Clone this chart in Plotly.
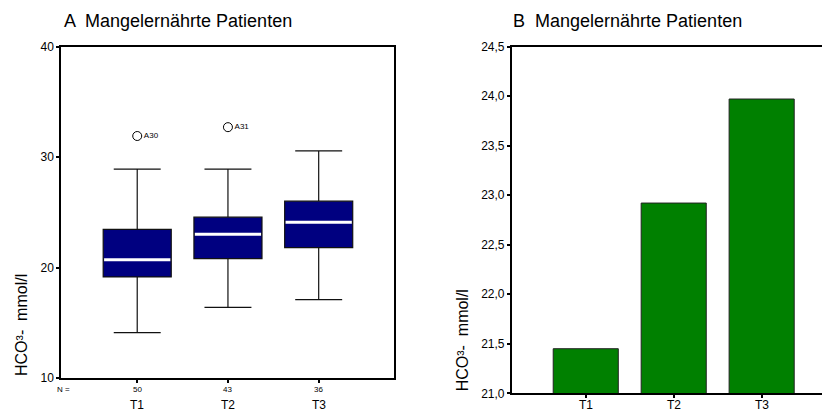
import plotly.graph_objects as go

# HCO3- values (mmol/l) for malnourished patients at three time points
times = ["T1", "T2", "T3"]
n_counts = [50, 43, 36]

# box plot statistics per time point
lower_whisker = [14.1, 16.4, 17.1]
q1_vals = [19.15, 20.8, 21.8]
median_vals = [20.7, 23.0, 24.1]
q3_vals = [23.45, 24.55, 26.0]
upper_whisker = [28.9, 28.9, 30.55]

# labelled outliers
outlier_pos = [0, 1]
outlier_vals = [31.9, 32.7]
outlier_ids = ["A30", "A31"]

# mean values per time point
mean_vals = [21.45, 22.92, 23.97]

W, H = 822, 413
FONT = "Liberation Sans, Arial, sans-serif"
xs = list(range(len(times)))

fig = go.Figure()

box_w = 0.75
for i in xs:
    fig.add_trace(go.Box(
        x=[i], q1=[q1_vals[i]], median=[median_vals[i]], q3=[q3_vals[i]],
        lowerfence=[lower_whisker[i]], upperfence=[upper_whisker[i]],
        width=box_w, whiskerwidth=0.69,
        fillcolor="#000080", line=dict(color="#111111", width=1.2),
        boxpoints=False, xaxis="x", yaxis="y", hoverinfo="skip",
    ))
    # white median bar
    fig.add_trace(go.Scatter(
        x=[i - box_w / 2 + 0.01, i + box_w / 2 - 0.01],
        y=[median_vals[i], median_vals[i]],
        mode="lines", line=dict(color="white", width=3),
        xaxis="x", yaxis="y", hoverinfo="skip",
    ))

fig.add_trace(go.Scatter(
    x=outlier_pos, y=outlier_vals, mode="markers+text",
    text=outlier_ids, textposition="middle right",
    textfont=dict(family=FONT, size=8, color="black"),
    marker=dict(symbol="circle-open", size=9, color="black",
                line=dict(width=1, color="black")),
    xaxis="x", yaxis="y", hoverinfo="skip",
))

fig.add_trace(go.Bar(
    x=xs, y=mean_vals, base=0, width=0.74,
    marker=dict(color="#008000", line=dict(color="#222222", width=1)),
    xaxis="x2", yaxis="y2", hoverinfo="skip",
))

top_px, bot1_px, bot2_px = 46.5, 378, 393.3
ydom1 = [1 - bot1_px / H, 1 - top_px / H]
ydom2 = [1 - bot2_px / H, 1 - top_px / H]

axis_common = dict(showgrid=False, zeroline=False, showline=True,
                   linecolor="black", linewidth=1.5, automargin=False,
                   ticks="outside", ticklen=3, tickwidth=2, tickcolor="black",
                   tickfont=dict(family=FONT, size=12, color="black"))

fig.update_layout(
    width=W, height=H, margin=dict(l=0, r=0, t=0, b=0, pad=0, autoexpand=False),
    paper_bgcolor="white", plot_bgcolor="white",
    showlegend=False, separators=",.",
    font=dict(family=FONT, color="black"),
    xaxis=dict(domain=[61 / W, 394 / W], range=[-0.84, 2.83],
               tickvals=xs, showticklabels=False, mirror=True,
               anchor="y", **axis_common),
    yaxis=dict(domain=ydom1, range=[10, 40], tickvals=[10, 20, 30, 40],
               mirror=True, anchor="x", **axis_common),
    xaxis2=dict(domain=[511.7 / W, 1.0], range=[-0.842, 2.686],
                tickvals=xs, showticklabels=False, mirror=True, anchor="y2",
                **axis_common),
    yaxis2=dict(domain=ydom2, range=[21, 24.5],
                tickvals=[21, 21.5, 22, 22.5, 23, 23.5, 24, 24.5],
                tickformat=".1f", anchor="x2", **axis_common),
)

ann = []
ann.append(dict(text="A  Mangelernährte Patienten", x=62 / W, y=1 - 21 / H,
                xref="paper", yref="paper", xanchor="left", yanchor="middle",
                showarrow=False, font=dict(family=FONT, size=18)))
ann.append(dict(text="B  Mangelernährte Patienten", x=511 / W, y=1 - 21 / H,
                xref="paper", yref="paper", xanchor="left", yanchor="middle",
                showarrow=False, font=dict(family=FONT, size=18)))
for xp, yb in [(21 / W, bot1_px), (462 / W, bot2_px)]:
    ann.append(dict(text="HCO³-  mmol/l", x=xp, y=1 - yb / H, textangle=-90,
                    xref="paper", yref="paper", xanchor="center", yanchor="bottom",
                    showarrow=False, font=dict(family=FONT, size=16)))
ann.append(dict(text="N =", x=55 / W, y=1 - 389 / H, xref="paper", yref="paper",
                xanchor="left", yanchor="middle", showarrow=False,
                font=dict(family=FONT, size=8)))
for i in xs:
    ann.append(dict(text=str(n_counts[i]), x=i, y=1 - 389 / H, xref="x", yref="paper",
                    xanchor="center", yanchor="middle", showarrow=False,
                    font=dict(family=FONT, size=8)))
    ann.append(dict(text=times[i], x=i, y=1 - 405 / H, xref="x", yref="paper",
                    xanchor="center", yanchor="middle", showarrow=False,
                    font=dict(family=FONT, size=12)))
    # category labels under the bar chart
    ann.append(dict(text=times[i], x=i, y=1 - 404.5 / H, xref="x2", yref="paper",
                    xanchor="center", yanchor="middle", showarrow=False,
                    font=dict(family=FONT, size=12)))
fig.update_layout(annotations=ann)

fig.write_html("out.html")
